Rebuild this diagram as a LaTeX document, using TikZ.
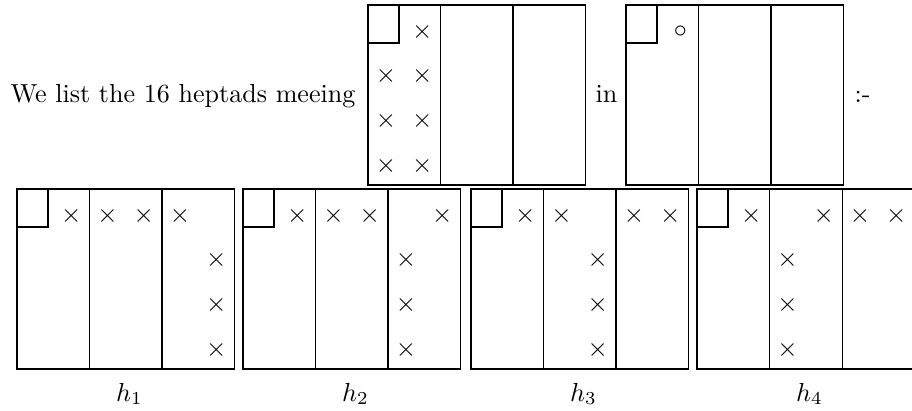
\documentclass[tikz,border=0pt]{standalone}
\usepackage{amsmath,amssymb}
\usepackage{tikz}
\usetikzlibrary{positioning,calc}

% one MOG frame: three bricks of 2x4 cells, small square in the corner
\newcommand{\mogframe}[3]{%
  \coordinate (#1) at (#2,#3);
  \draw[mogline] (#1) rectangle ++(217.5,180);
  \draw[mogline] ($(#1)+(72.5,0)$) -- ++(0,180);
  \draw[mogline] ($(#1)+(145,0)$) -- ++(0,180);
  \draw[mogline] ($(#1)+(0,38)$) -| ($(#1)+(31,0)$);
}

\begin{document}
\begin{tikzpicture}[
  x=0.3837pt,y=-0.3837pt,
  mogline/.style={line width=0.4pt,black},
  xmark/.style={inner sep=0pt,anchor=center},
  txt/.style={inner sep=0pt,anchor=base west},
  hlabel/.style={inner sep=0pt,anchor=base}
]
\useasboundingbox (0,0) rectangle (912,410);

% top line
\node[txt] (intro) at (10,102) {We list the 16 heptads meeing};
\mogframe{octad}{368}{5}
\node[txt] (in) at (595,102) {in};
\mogframe{sext}{626}{5}
\node[txt] (colon) at (854,102) {:-};

\foreach \c/\r in {1/0,0/1,1/1,0/2,1/2,0/3,1/3}
  \node[xmark] (octad-\c-\r) at ($(octad)+(18.1+36.25*\c,26.5+44.8*\r)$) {$\times$};
\node[xmark] (sext-1-0) at ($(sext)+(18.1+36.25,26.5)$) {$\circ$};

% the heptads
\mogframe{h1}{17}{189}
\mogframe{h2}{243}{189}
\mogframe{h3}{471}{189}
\mogframe{h4}{697}{189}

\foreach \c/\r in {1/0,2/0,3/0,4/0,5/1,5/2,5/3}
  \node[xmark] (h1-\c-\r) at ($(h1)+(18.1+36.25*\c,26.5+44.8*\r)$) {$\times$};
\foreach \c/\r in {1/0,2/0,3/0,5/0,4/1,4/2,4/3}
  \node[xmark] (h2-\c-\r) at ($(h2)+(18.1+36.25*\c,26.5+44.8*\r)$) {$\times$};
\foreach \c/\r in {1/0,2/0,4/0,5/0,3/1,3/2,3/3}
  \node[xmark] (h3-\c-\r) at ($(h3)+(18.1+36.25*\c,26.5+44.8*\r)$) {$\times$};
\foreach \c/\r in {1/0,3/0,4/0,5/0,2/1,2/2,2/3}
  \node[xmark] (h4-\c-\r) at ($(h4)+(18.1+36.25*\c,26.5+44.8*\r)$) {$\times$};

\foreach \i in {1,...,4}
  \node[hlabel] (lab\i) at ($(h\i)+(112.5,212)$) {$h_\i$};
\end{tikzpicture}
\end{document}
